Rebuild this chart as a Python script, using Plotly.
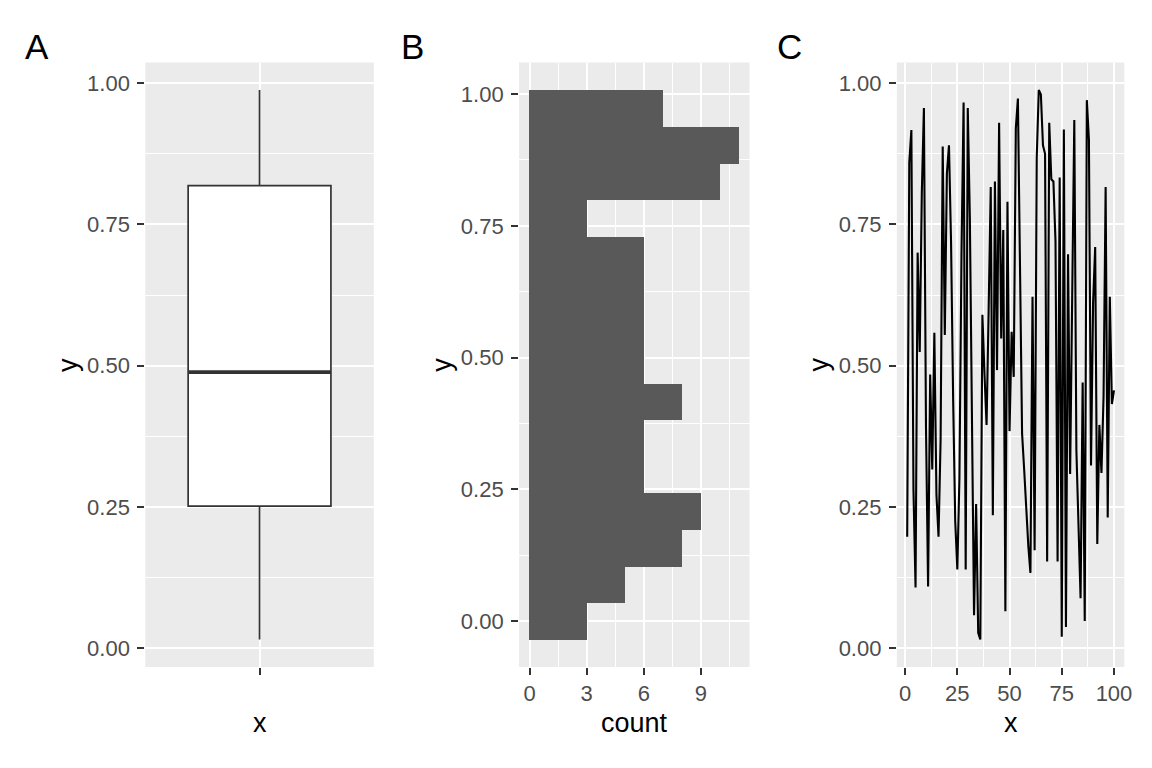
import numpy as np
import plotly.graph_objects as go

W, H = 1152, 768

# ---------------- data ----------------
x_index = list(range(1, 101))
y_values = [
    0.197, 0.86, 0.917, 0.28, 0.107, 0.70, 0.524, 0.806, 0.956, 0.39,
    0.109, 0.484, 0.316, 0.558, 0.272, 0.197, 0.37, 0.888, 0.554, 0.84,
    0.89, 0.718, 0.44, 0.224, 0.139, 0.30, 0.70, 0.966, 0.139, 0.956,
    0.76, 0.42, 0.058, 0.255, 0.027, 0.015, 0.59, 0.485, 0.395, 0.60,
    0.816, 0.235, 0.826, 0.492, 0.93, 0.548, 0.74, 0.065, 0.79, 0.384,
    0.56, 0.48, 0.92, 0.973, 0.656, 0.38, 0.316, 0.24, 0.18, 0.133,
    0.622, 0.173, 0.867, 0.988, 0.98, 0.89, 0.875, 0.153, 0.93, 0.83,
    0.826, 0.72, 0.153, 0.833, 0.02, 0.918, 0.037, 0.697, 0.308, 0.626,
    0.935, 0.35, 0.21, 0.088, 0.47, 0.048, 0.97, 0.90, 0.323, 0.612,
    0.71, 0.184, 0.395, 0.31, 0.445, 0.816, 0.231, 0.622, 0.432, 0.456,
]
n_bins = 15
panel_labels = ["A", "B", "C"]
y_tickvals = [0, 0.25, 0.5, 0.75, 1.0]
y_ticktext = ["0.00", "0.25", "0.50", "0.75", "1.00"]
count_tickvals = [0, 3, 6, 9]
x_tickvals = [0, 25, 50, 75, 100]
box_position = 1
box_width = 0.75

# ---------------- stats ----------------
y = np.array(y_values)
q1, med, q3 = np.percentile(y, [25, 50, 75])
iqr = q3 - q1
low_f = y[y >= q1 - 1.5 * iqr].min()
up_f = y[y <= q3 + 1.5 * iqr].max()

ymin, ymax = y.min(), y.max()
bw = (ymax - ymin) / (n_bins - 1)
boundary = bw / 2
origin = boundary + np.floor((ymin - boundary) / bw) * bw
edges = origin + bw * np.arange(n_bins + 1)
idx = np.searchsorted(edges, y, side="left") - 1
idx = np.clip(idx, 0, n_bins - 1)
counts = np.bincount(idx, minlength=n_bins)
centers = (edges[:-1] + edges[1:]) / 2


def expand(lo, hi, m=0.05):
    d = (hi - lo) * m
    return [lo - d, hi + d]


# ---------------- figure ----------------
FONT = "Liberation Sans, Arial, sans-serif"
XS = W * 0.991  # effective horizontal scale of the rendered page


def fx(px):
    return px / XS


fig = go.Figure()

fig.add_trace(go.Box(
    x=[box_position], q1=[q1], median=[med], q3=[q3],
    lowerfence=[low_f], upperfence=[up_f], width=box_width,
    fillcolor="white", line=dict(color="#333333", width=1.7),
    whiskerwidth=0, boxpoints=False, showlegend=False, hoverinfo="skip",
    xaxis="x", yaxis="y",
))
fig.add_trace(go.Scatter(
    x=[box_position - box_width / 2, box_position + box_width / 2], y=[med, med],
    mode="lines", line=dict(color="#333333", width=3.6),
    showlegend=False, hoverinfo="skip", xaxis="x", yaxis="y",
))
fig.add_trace(go.Bar(
    y=centers, x=counts, width=bw, orientation="h",
    marker=dict(color="#595959", line=dict(width=0)),
    showlegend=False, hoverinfo="skip", xaxis="x2", yaxis="y2",
))
fig.add_trace(go.Scatter(
    x=x_index, y=y_values, mode="lines",
    line=dict(color="black", width=2.1),
    showlegend=False, hoverinfo="skip", xaxis="x3", yaxis="y3",
))

dom_y = [(H - 667) / H, (H - 62.5) / H]
doms = [[fx(145), fx(373)], [fx(518), fx(748)], [fx(895), fx(1122)]]

tickfont = dict(family=FONT, size=22, color="#4D4D4D")


def ax(**kw):
    base = dict(
        showgrid=True, gridcolor="white", gridwidth=2, zeroline=False,
        showline=False, ticks="outside", ticklen=7, tickwidth=2,
        tickcolor="#333333", tickfont=tickfont, fixedrange=True,
    )
    base.update(kw)
    return base


yminor = dict(dtick=0.125, tick0=0, showgrid=True, gridcolor="white", gridwidth=1)
ra = expand(ymin, ymax)
rb = expand(edges[0], edges[-1])

fig.update_layout(
    width=W, height=H, autosize=False, margin=dict(l=0, r=0, t=0, b=0),
    paper_bgcolor="white", plot_bgcolor="#EBEBEB",
    bargap=0, showlegend=False,
    xaxis=ax(domain=doms[0], anchor="y", range=[0.4, 1.6],
             tickvals=[box_position], ticktext=[""]),
    yaxis=ax(domain=dom_y, anchor="x", range=ra, tickvals=y_tickvals,
             ticktext=y_ticktext, minor=yminor, ticklabelstandoff=3),
    xaxis2=ax(domain=doms[1], anchor="y2", range=expand(0, counts.max()),
              tickvals=count_tickvals,
              minor=dict(dtick=1.5, tick0=0, showgrid=True, gridcolor="white", gridwidth=1)),
    yaxis2=ax(domain=dom_y, anchor="x2", range=rb, tickvals=y_tickvals,
              ticktext=y_ticktext, minor=yminor, ticklabelstandoff=3),
    xaxis3=ax(domain=doms[2], anchor="y3", range=expand(1, 100),
              tickvals=x_tickvals,
              minor=dict(dtick=12.5, tick0=0, showgrid=True, gridcolor="white", gridwidth=1)),
    yaxis3=ax(domain=dom_y, anchor="x3", range=ra, tickvals=y_tickvals,
              ticktext=y_ticktext, minor=yminor, ticklabelstandoff=3),
)

annotations = []
label_x = [23, 398, 773]
for lab, lx in zip(panel_labels, label_x):
    annotations.append(dict(text=lab, x=fx(lx), y=1 - 47 / H, xref="paper", yref="paper",
                            xanchor="left", yanchor="middle", showarrow=False,
                            font=dict(family=FONT, size=35, color="black")))
titles_x = ["x", "count", "x"]
ytitle_x = [68, 441, 817]
for i, (t, d) in enumerate(zip(titles_x, doms)):
    cx = (d[0] + d[1]) / 2
    annotations.append(dict(text=t, x=cx, y=1 - 723 / H, xref="paper", yref="paper",
                            xanchor="center", yanchor="middle", showarrow=False,
                            font=dict(family=FONT, size=27, color="black")))
    annotations.append(dict(text="y", x=fx(ytitle_x[i]), y=(dom_y[0] + dom_y[1]) / 2,
                            xref="paper", yref="paper", textangle=-90,
                            xanchor="center", yanchor="middle", showarrow=False,
                            font=dict(family=FONT, size=27, color="black")))
fig.update_layout(annotations=annotations)

fig.write_html("out.html", config={"responsive": False})
